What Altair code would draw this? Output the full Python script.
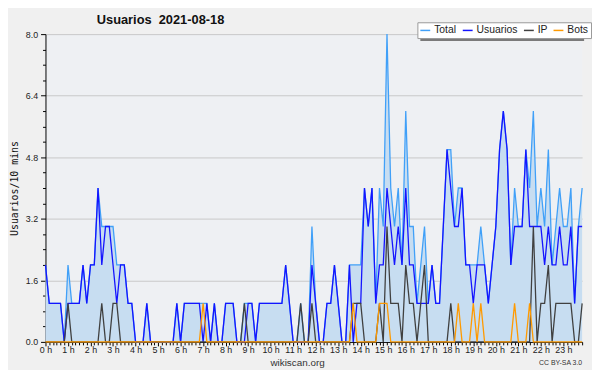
import altair as alt
import pandas as pd

# 10-minute slots, 0 h .. 23 h 50
usuarios = [2, 1, 1, 1, 1, 0, 1, 1, 1, 1, 2, 1, 2, 2, 4, 2, 3, 3, 2, 1, 2, 2, 1, 1,
            0, 0, 0, 1, 0, 0, 0, 0, 0, 0, 0, 1, 0, 1, 1, 1, 1, 1, 0, 1, 0, 1, 0, 0,
            1, 1, 1, 0, 0, 0, 1, 1, 0, 1, 1, 1, 1, 1, 1, 1, 2, 1, 0, 0, 0, 0, 0, 2,
            1, 0, 0, 1, 1, 2, 1, 0, 0, 2, 0, 1, 1, 4, 3, 4, 1, 2, 2, 4, 3, 2, 3, 2,
            4, 2, 2, 1, 1, 1, 1, 2, 1, 1, 3, 5, 4, 3, 3, 4, 2, 2, 1, 2, 2, 2, 1, 2,
            3, 5, 6, 5, 2, 3, 3, 3, 5, 3, 3, 3, 3, 2, 3, 2, 2, 3, 2, 2, 3, 1, 3, 3]
ip = [0, 0, 0, 0, 0, 0, 1, 0, 0, 0, 0, 0, 0, 0, 0, 1, 0, 0, 1, 1, 0, 0, 0, 0,
      0, 0, 0, 0, 0, 0, 0, 0, 0, 0, 0, 0, 0, 0, 0, 0, 0, 0, 0, 0, 0, 0, 0, 0,
      0, 0, 0, 0, 0, 1, 0, 0, 0, 0, 0, 0, 0, 0, 0, 0, 0, 0, 0, 0, 1, 0, 0, 1,
      0, 0, 0, 0, 0, 0, 0, 0, 0, 0, 1, 1, 1, 0, 0, 0, 0, 1, 0, 3, 1, 1, 1, 0,
      2, 1, 1, 0, 1, 2, 0, 0, 0, 0, 0, 0, 1, 0, 0, 0, 0, 0, 0, 0, 0, 0, 0, 0,
      0, 0, 0, 0, 0, 0, 0, 0, 0, 0, 3, 0, 1, 1, 2, 0, 1, 1, 1, 1, 1, 0, 0, 1]
bots = [0, 0, 0, 0, 0, 0, 0, 0, 0, 0, 0, 0, 0, 0, 0, 0, 0, 0, 0, 0, 0, 0, 0, 0,
        0, 0, 0, 0, 0, 0, 0, 0, 0, 0, 0, 0, 0, 0, 0, 0, 0, 0, 1, 0, 0, 0, 0, 0,
        0, 0, 0, 0, 0, 0, 0, 0, 0, 0, 0, 0, 0, 0, 0, 0, 0, 0, 0, 0, 0, 0, 0, 0,
        0, 0, 0, 0, 0, 0, 0, 0, 0, 0, 1, 0, 0, 0, 0, 0, 0, 1, 1, 1, 0, 0, 0, 0,
        0, 0, 0, 0, 0, 0, 0, 0, 0, 0, 0, 0, 0, 0, 1, 0, 0, 0, 1, 0, 1, 0, 0, 0,
        0, 0, 0, 0, 0, 1, 0, 0, 0, 1, 0, 0, 0, 0, 0, 0, 0, 0, 0, 0, 0, 0, 0, 0]
total = [2, 1, 1, 1, 1, 0, 2, 1, 1, 1, 2, 1, 2, 2, 4, 3, 3, 3, 3, 2, 2, 2, 1, 1,
         0, 0, 0, 1, 0, 0, 0, 0, 0, 0, 0, 1, 0, 1, 1, 1, 1, 1, 1, 1, 0, 1, 0, 0,
         1, 1, 1, 0, 0, 1, 1, 1, 0, 1, 1, 1, 1, 1, 1, 1, 2, 1, 0, 0, 1, 0, 0, 3,
         1, 0, 0, 1, 1, 2, 1, 0, 0, 2, 2, 2, 2, 4, 3, 4, 1, 4, 3, 8, 4, 3, 4, 2,
         6, 3, 3, 1, 2, 3, 1, 2, 1, 1, 3, 5, 5, 3, 4, 4, 2, 2, 2, 2, 3, 2, 1, 2,
         3, 5, 6, 5, 2, 4, 3, 3, 5, 4, 6, 3, 4, 3, 5, 2, 3, 4, 3, 3, 4, 1, 3, 4]

series = ["Total", "Usuarios", "IP", "Bots"]
colors = ["#40a0f8", "#1414ff", "#404040", "#ff9a00"]
y_ticks = [round(i * 0.4, 1) for i in range(21)]

n = len(total)
df = pd.DataFrame({"t": list(range(n)), "Total": total, "Usuarios": usuarios,
                   "IP": ip, "Bots": bots})
long = df.melt(id_vars="t", var_name="serie", value_name="v")

FONT = "Liberation Sans"

x_axis = alt.Axis(
    values=list(range(n)),
    labelExpr="datum.value % 6 == 0 ? (datum.value / 6) + ' h' : ''",
    labelOverlap=False, labelFlush=False, labelPadding=0,
    tickSize={"condition": {"test": "datum.value % 6 == 0", "value": 4}, "value": 3},
    grid=False, domainColor="#000", tickColor="#000",
    labelFont=FONT, labelFontSize=9, labelColor="#222",
    title="wikiscan.org", titleFont=FONT, titleFontSize=10, titleFontWeight="normal",
    titleColor="#333", titleX=255, titleY=21, titleBaseline="middle", titleAnchor="middle",
)
major = "abs(datum.value / 1.6 - round(datum.value / 1.6)) < 0.01"
y_axis = alt.Axis(
    values=y_ticks,
    labelExpr="abs(datum.value / 1.6 - round(datum.value / 1.6)) < 0.01 ? format(datum.value, '.1f') : ''",
    labelOverlap=False, labelFlush=False, labelPadding=3,
    tickSize={"condition": {"test": major, "value": 5}, "value": 3},
    gridOpacity={"condition": {"test": major, "value": 1}, "value": 0},
    grid=True, gridColor="#c8c8c8", gridWidth=1,
    domainColor="#000", tickColor="#000",
    labelFont=FONT, labelFontSize=9, labelColor="#222",
    title="Usuarios/10 mins", titleFont="DejaVu Sans Mono", titleFontSize=10,
    titleFontWeight="normal", titleColor="#111", titleAngle=-90,
    titleX=-31, titleY=156, titleAlign="center", titleBaseline="middle",
)

X = alt.X("t:Q", scale=alt.Scale(domain=[0, n - 1], nice=False, zero=False), axis=x_axis)
Y = alt.Y("v:Q", scale=alt.Scale(domain=[0, 8], nice=False), axis=y_axis)
C = alt.Color(
    "serie:N",
    scale=alt.Scale(domain=series, range=colors),
    legend=alt.Legend(
        title=None, orient="none", direction="horizontal", legendX=377, legendY=-12,
        symbolType="stroke", symbolSize=100, symbolStrokeWidth=1.5,
        labelFont=FONT, labelFontSize=10.5, labelColor="#222", labelOffset=3,
        columnPadding=3, padding=2, fillColor="#ffffff", strokeColor="#999999",
    ),
)

base = alt.Chart(long)
area = base.transform_filter(alt.datum.serie == "Total").mark_area(
    color="#c7ddf1", opacity=1, interpolate="linear"
).encode(x=X, y=Y)

lines = [
    base.transform_filter(alt.datum.serie == s).mark_line(strokeWidth=1.3, interpolate="linear").encode(
        x=X, y=Y, color=C
    )
    for s in series
]

shadow = alt.Chart(pd.DataFrame({"a": [0]})).mark_rect(color="#7a7a7a").encode(
    x=alt.value(380), x2=alt.value(546), y=alt.value(-9), y2=alt.value(7)
)
title_txt = alt.Chart(pd.DataFrame({"s": ["Usuarios\u00a0\u00a02021-08-18"]})).mark_text(
    align="left", baseline="middle", font=FONT, fontSize=13, fontWeight="bold", color="#111"
).encode(text="s:N", x=alt.value(52), y=alt.value(-14))
cc_txt = alt.Chart(pd.DataFrame({"s": ["CC BY-SA 3.0"]})).mark_text(
    align="right", baseline="middle", font=FONT, fontSize=7, color="#333"
).encode(text="s:N", x=alt.value(544), y=alt.value(333))

chart = alt.layer(area, *lines, shadow, title_txt, cc_txt).properties(
    width=544, height=312,
    autosize=alt.AutoSizeParams(type="none"),
    padding={"left": 38, "top": 24, "right": 10, "bottom": 26},
    background="#f0f0f0",
).configure_view(fill="#eef0f3", stroke=None)

chart.save("out.html", embed_options={"renderer": "svg", "actions": False})
